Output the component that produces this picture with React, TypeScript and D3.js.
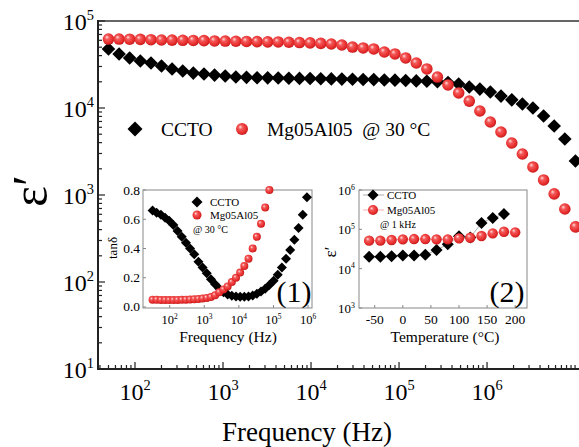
import * as d3 from "d3";

// main panel: permittivity vs frequency at 30 °C
const freqHz = [
  50, 66, 87, 115, 152, 200, 264, 349, 460, 608, 802, 1060, 1400, 1850, 2440, 3220,
  4240, 5600, 7400, 9760, 12900, 17000, 22400, 29600, 39100, 51600, 68100, 89900,
  119000, 157000, 207000, 273000, 360000, 476000, 628000, 829000, 1090000, 1440000,
  1910000, 2520000, 3320000, 4390000, 5790000, 7650000, 10100000, 13300000,
];
const epsCCTO = [
  47600, 41800, 37600, 34700, 32900, 30400, 28100, 26600, 25200, 24600, 23900, 23300,
  22700, 22500, 22300, 22200, 22100, 22000, 21900, 21800, 21700, 21600, 21500, 21400,
  21300, 21200, 21000, 20900, 20700, 20500, 20300, 20000, 19600, 18900, 17400, 16500,
  15300, 13700, 12400, 11100, 10000, 8090, 6200, 4400, 2460, 450,
];
const epsMg = [
  62000, 62000, 61800, 61500, 61000, 60500, 60300, 60000, 59800, 59500, 59000, 58800,
  58500, 58200, 57900, 57600, 57400, 57000, 56500, 56000, 55300, 54400, 53000, 50200,
  49000, 47700, 44000, 41800, 37600, 32900, 28100, 22700, 18400, 14900, 12000, 9240,
  6900, 5300, 3960, 2960, 2100, 1490, 1030, 690, 430, 220,
];

// inset (1): loss tangent
const insetFreqHz = [
  32, 42, 56, 74, 97, 128, 169, 223, 295, 389, 514, 678, 895, 1180, 1560, 2060, 2720,
  3590, 4740, 6260, 8260, 10900, 14400, 19000, 25100, 33100, 43700, 57700, 76200,
  101000, 133000, 175000, 231000, 305000, 403000, 532000, 702000, 927000,
];
const tanCCTO = [
  0.66, 0.645, 0.63, 0.61, 0.59, 0.56, 0.52, 0.48, 0.44, 0.4, 0.36, 0.31, 0.27, 0.23,
  0.19, 0.155, 0.125, 0.1, 0.085, 0.077, 0.072, 0.07, 0.07, 0.072, 0.078, 0.09, 0.105,
  0.125, 0.15, 0.18, 0.22, 0.27, 0.33, 0.39, 0.46, 0.54, 0.63, 0.75,
];
const tanMg = [
  0.05, 0.05, 0.048, 0.047, 0.047, 0.047, 0.048, 0.049, 0.05, 0.051, 0.053, 0.055,
  0.058, 0.062, 0.068, 0.08, 0.1, 0.12, 0.14, 0.17, 0.2, 0.235, 0.28, 0.33, 0.4, 0.48,
  0.57, 0.68, 0.8,
];

// inset (2): permittivity vs temperature at 1 kHz
const tempC = [-60, -40, -20, 0, 20, 40, 60, 80, 100, 120, 140, 160, 180, 200];
const epsTCCTO = [20000, 20000, 20800, 21500, 21500, 22500, 29700, 42000, 67000, 62000, 145000, 195000, 245000];
const epsTMg = [51500, 51500, 53400, 55600, 56600, 56600, 55600, 55600, 59000, 61100, 67600, 79100, 86900, 83900];

const mainXTicks = [1e2, 1e3, 1e4, 1e5, 1e6];
const mainYTicks = [1e1, 1e2, 1e3, 1e4, 1e5];
const tanTicks = [0, 0.2, 0.4, 0.6, 0.8];
const insetXTicks = [1e2, 1e3, 1e4, 1e5, 1e6];
const tempTicks = [-50, 0, 50, 100, 150, 200];
const insetYTicks = [1e3, 1e4, 1e5, 1e6];

const FONT = '"Liberation Serif", "Times New Roman", serif';

const diamond = (s: number) => `M0,${-s}L${s},0L0,${s}L${-s},0Z`;

const minorLog = (lo: number, hi: number) => {
  const out: number[] = [];
  for (let e = Math.floor(Math.log10(lo)); e <= Math.ceil(Math.log10(hi)); e++) {
    for (let m = 1; m < 10; m++) {
      const v = m * Math.pow(10, e);
      if (v >= lo && v <= hi) out.push(v);
    }
  }
  return out;
};

const Pow = ({ x, y, exp, size, anchor = "middle" }: any) => (
  <text x={x} y={y} fontSize={size} textAnchor={anchor}>
    10
    <tspan dy={-size * 0.42} fontSize={size * 0.6}>
      {exp}
    </tspan>
  </text>
);

export default function App() {
  const W = 579;
  const H = 447;

  // main scales
  const x = d3.scaleLog().domain([38, 1.92e7]).range([98, 600]);
  const y = d3.scaleLog().domain([10, 1e5]).range([369, 21]);

  // inset 1
  const ix1 = d3.scaleLog().domain([Math.pow(10, 1.229), Math.pow(10, 6.114)]).range([143, 312]);
  const iy1 = d3.scaleLinear().domain([-0.007, 0.8]).range([308, 190]);

  // inset 2
  const ix2 = d3.scaleLinear().domain([-78, 221]).range([359, 527]);
  const iy2 = d3.scaleLog().domain([1e3, 1e6]).range([308, 190]);

  const line2 = (xs: number[], ys: number[]) =>
    d3.line<number>().x((_, i) => ix2(xs[i])).y((v) => iy2(v))(ys) || "";

  return (
    <svg
      width={W}
      height={H}
      style={{ position: "absolute", left: 0, top: 0, background: "#fff", fontFamily: FONT }}
    >
      <defs>
        <radialGradient id="ball" cx="0.45" cy="0.45" r="0.6" fx="0.35" fy="0.32">
          <stop offset="0" stopColor="#ffe0e0" />
          <stop offset="0.3" stopColor="#f45a5a" />
          <stop offset="0.75" stopColor="#e52a2a" />
          <stop offset="1" stopColor="#b71515" />
        </radialGradient>
      </defs>
      <rect width={W} height={H} fill="#fff" />

      {/* main frame */}
      <line x1={98} x2={W} y1={21} y2={21} stroke="#333" strokeWidth={1.5} />
      <line x1={98} x2={98} y1={20} y2={370} stroke="#222" strokeWidth={2} />
      <line x1={97} x2={W} y1={369} y2={369} stroke="#222" strokeWidth={2} />

      {minorLog(40, 1e7).map((t, i) => (
        <line key={"xm" + i} x1={x(t)} x2={x(t)} y1={369} y2={mainXTicks.includes(t) ? 362 : 365} stroke="#222" strokeWidth={1.2} />
      ))}
      {minorLog(10, 1e5).map((t, i) => (
        <line key={"ym" + i} x1={98} x2={mainYTicks.includes(t) ? 105 : 102} y1={y(t)} y2={y(t)} stroke="#222" strokeWidth={1.2} />
      ))}
      {mainXTicks.map((t) => (
        <Pow key={"xl" + t} x={x(t)} y={400} exp={Math.log10(t)} size={24} />
      ))}
      {mainYTicks.map((t) => (
        <Pow key={"yl" + t} x={94} y={y(t) + 9} exp={Math.log10(t)} size={24} anchor="end" />
      ))}

      <text x={307} y={441} fontSize={27} textAnchor="middle">
        Frequency (Hz)
      </text>
      <text transform="translate(47,191) rotate(-90)" fontSize={50} textAnchor="middle">
        ε′
      </text>

      {/* main data */}
      {epsCCTO.map((v, i) => (
        <path key={"c" + i} d={diamond(6.8)} transform={`translate(${x(freqHz[i])},${y(v)})`} fill="#000" />
      ))}
      {epsMg.map((v, i) => (
        <circle key={"m" + i} cx={x(freqHz[i])} cy={y(v)} r={5.8} fill="url(#ball)" />
      ))}

      {/* main legend */}
      <path d={diamond(7.5)} transform="translate(135,129)" fill="#000" />
      <text x={161} y={136} fontSize={19.5}>
        CCTO
      </text>
      <circle cx={242} cy={129} r={6} fill="url(#ball)" />
      <text x={267} y={136} fontSize={19.5} style={{ whiteSpace: "pre" }}>
        {"Mg05Al05  @ 30 °C"}
      </text>

      {/* inset 1 */}
      <rect x={143} y={190} width={169} height={118} fill="#fff" stroke="#888" strokeWidth={1} />
      {tanTicks.map((t) => (
        <g key={"t1" + t}>
          <line x1={143} x2={146} y1={iy1(t)} y2={iy1(t)} stroke="#888" />
          <text x={140} y={iy1(t) + 4.5} fontSize={13.5} textAnchor="end">
            {t.toFixed(1)}
          </text>
        </g>
      ))}
      {insetXTicks.map((t) => (
        <g key={"x1" + t}>
          <line x1={ix1(t)} x2={ix1(t)} y1={308} y2={305} stroke="#888" />
          <Pow x={ix1(t)} y={324} exp={Math.log10(t)} size={12.5} />
        </g>
      ))}
      <text x={228} y={342} fontSize={15.5} textAnchor="middle">
        Frequency (Hz)
      </text>
      <text transform="translate(117,248) rotate(-90)" fontSize={13} textAnchor="middle">
        tanδ
      </text>
      <text x={294} y={302} fontSize={30} textAnchor="middle">
        (1)
      </text>
      {tanCCTO.map((v, i) => (
        <path key={"tc" + i} d={diamond(5)} transform={`translate(${ix1(insetFreqHz[i])},${iy1(v)})`} fill="#000" />
      ))}
      {tanMg.map((v, i) => (
        <circle key={"tm" + i} cx={ix1(insetFreqHz[i])} cy={iy1(v)} r={4} fill="url(#ball)" />
      ))}
      <path d={diamond(5.5)} transform="translate(197,202)" fill="#000" />
      <text x={210} y={206} fontSize={11}>
        CCTO
      </text>
      <circle cx={197} cy={215} r={4.5} fill="url(#ball)" />
      <text x={210} y={219} fontSize={11}>
        Mg05Al05
      </text>
      <text x={193} y={233} fontSize={10}>
        @ 30 °C
      </text>

      {/* inset 2 */}
      <rect x={359} y={190} width={168} height={118} fill="#fff" stroke="#888" strokeWidth={1} />
      {insetYTicks.map((t) => (
        <g key={"y2" + t}>
          <line x1={359} x2={362} y1={iy2(t)} y2={iy2(t)} stroke="#888" />
          <Pow x={355} y={iy2(t) + 5} exp={Math.log10(t)} size={13} anchor="end" />
        </g>
      ))}
      {tempTicks.map((t) => (
        <g key={"x2" + t}>
          <line x1={ix2(t)} x2={ix2(t)} y1={308} y2={305} stroke="#888" />
          <text x={ix2(t)} y={324} fontSize={13.5} textAnchor="middle">
            {t}
          </text>
        </g>
      ))}
      <text x={445} y={342} fontSize={15.5} textAnchor="middle">
        Temperature (°C)
      </text>
      <text transform="translate(336,252) rotate(-90)" fontSize={17} textAnchor="middle">
        ε′
      </text>
      <text x={507} y={302} fontSize={30} textAnchor="middle">
        (2)
      </text>
      <path d={line2(tempC, epsTCCTO)} fill="none" stroke="#999" strokeWidth={0.8} />
      <path d={line2(tempC, epsTMg)} fill="none" stroke="#f29a9a" strokeWidth={0.8} />
      {epsTCCTO.map((v, i) => (
        <path key={"ec" + i} d={diamond(6)} transform={`translate(${ix2(tempC[i])},${iy2(v)})`} fill="#000" />
      ))}
      {epsTMg.map((v, i) => (
        <circle key={"em" + i} cx={ix2(tempC[i])} cy={iy2(v)} r={5.2} fill="url(#ball)" />
      ))}
      <line x1={363} x2={384} y1={195} y2={195} stroke="#999" strokeWidth={0.8} />
      <path d={diamond(5.5)} transform="translate(373,195)" fill="#000" />
      <text x={387} y={199} fontSize={11}>
        CCTO
      </text>
      <line x1={363} x2={384} y1={210} y2={210} stroke="#f29a9a" strokeWidth={0.8} />
      <circle cx={373} cy={210} r={5} fill="url(#ball)" />
      <text x={387} y={214} fontSize={11}>
        Mg05Al05
      </text>
      <text x={380} y={228} fontSize={10}>
        @ 1 kHz
      </text>
    </svg>
  );
}
